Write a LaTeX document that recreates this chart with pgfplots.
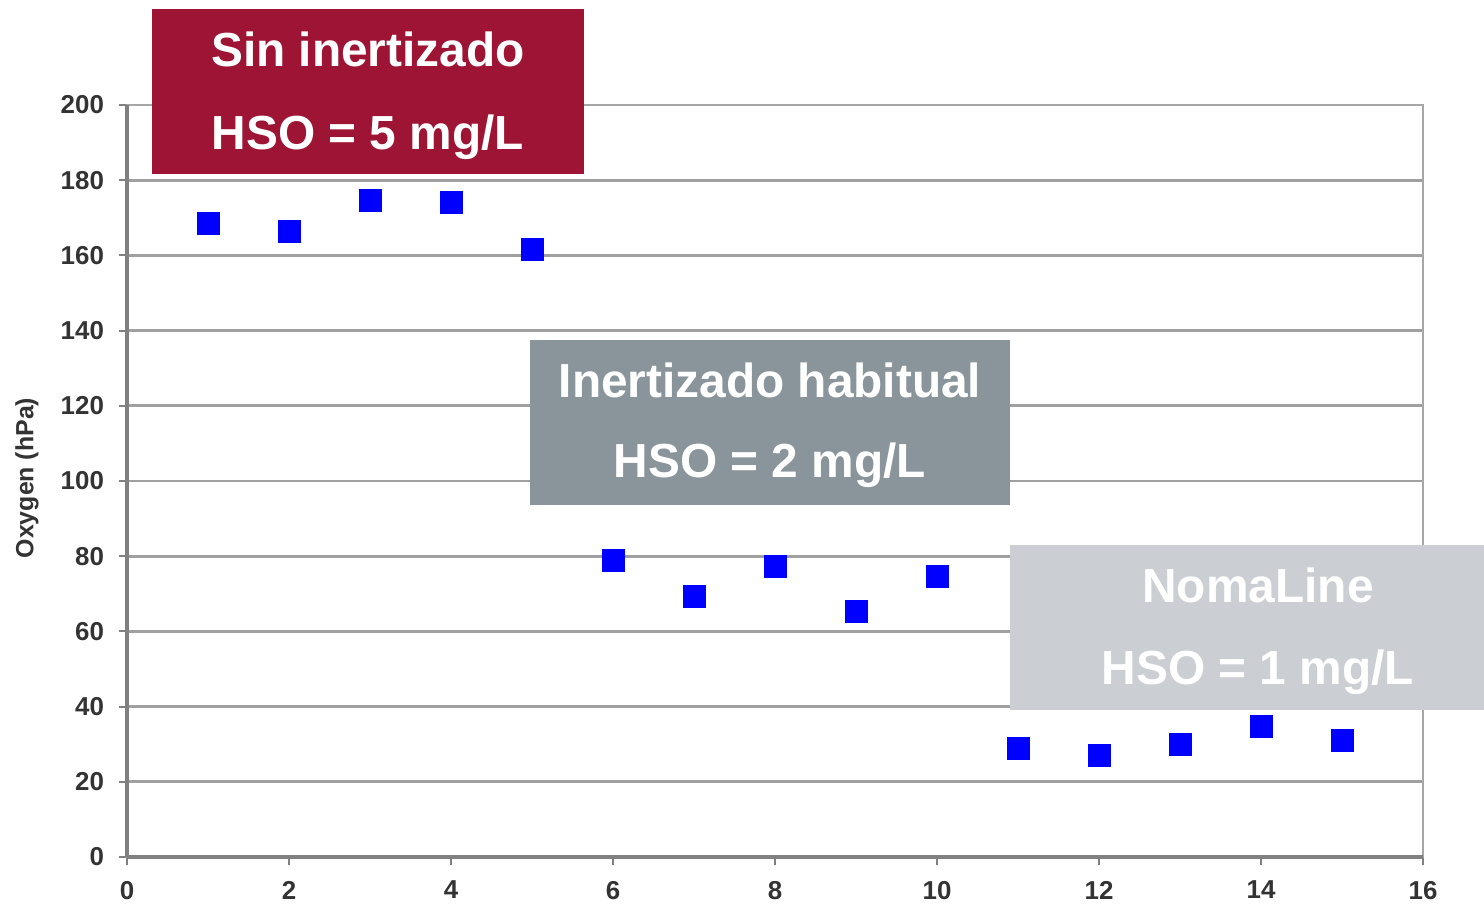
\documentclass[border=0pt]{standalone}
\usepackage{pgfplots}
\pgfplotsset{compat=1.18}
\usepackage{fontspec}
\setmainfont{Liberation Sans}
\definecolor{boxred}{RGB}{158,20,52}
\definecolor{boxgray}{RGB}{138,148,155}
\definecolor{boxlight}{RGB}{203,207,211}
\definecolor{gridc}{RGB}{160,160,160}
\definecolor{framec}{RGB}{128,128,128}
\begin{document}
\begin{tikzpicture}[x=1bp,y=1bp]
\path (-63.5,-22.5) rectangle (678.5,428.5);
\begin{axis}[
  at={(0,0)}, anchor=south west,
  scale only axis, width=648bp, height=376bp,
  xmin=0, xmax=16, ymin=0, ymax=200,
  xtick={0,2,...,16}, ytick={0,20,...,200},
  ymajorgrids, grid style={gridc, line width=1.4bp},
  axis line style={framec!70, line width=1.2bp},
  tick style={framec, line width=1bp},
  tick align=outside, major tick length=4bp,
  xtick pos=bottom, ytick pos=left,
  /pgf/number format/assume math mode=true,
  ticklabel style={font=\fontsize{13}{15}\selectfont\bfseries, text=black!80},
  xticklabel style={yshift=-4.5bp},
  yticklabel style={xshift=-4bp},
  clip=false,
]
\addplot[only marks, mark=square*, mark size=5.5bp, mark options={fill=blue, draw=blue}]
coordinates {
(1,168.6) (2,166.5) (3,174.5) (4,174.2) (5,161.7)
(6,79) (7,69.4) (8,77.4) (9,65.4) (10,74.5)
(11,29) (12,27.1) (13,30) (14,34.8) (15,31.1)
};
\draw[framec, line width=1.6bp] (rel axis cs:0,0) -- (rel axis cs:0,1);
\draw[framec, line width=1.6bp] (rel axis cs:0,0) -- (rel axis cs:1,0);
\end{axis}
\node[rotate=90, text=black!80, font=\fontsize{12.5}{15}\selectfont\bfseries] at (-50,189.5) {Oxygen (hPa)};
\fill[boxred] (12.5,341.5) rectangle (228.5,424);
\node[text=white, font=\fontsize{24}{28}\selectfont\bfseries] at (120.5,404) {Sin inertizado};
\node[text=white, font=\fontsize{24}{28}\selectfont\bfseries] at (120.5,360) {HSO = 5 mg/L};
\fill[boxgray] (201.5,176) rectangle (441.5,258.5);
\node[text=white, font=\fontsize{24}{28}\selectfont\bfseries] at (321.5,238.5) {Inertizado habitual};
\node[text=white, font=\fontsize{24}{28}\selectfont\bfseries] at (321.5,196) {HSO = 2 mg/L};
\fill[boxlight] (441.5,73.5) rectangle (678.5,156);
\node[text=white, font=\fontsize{24}{28}\selectfont\bfseries] at (565.5,136) {NomaLine};
\node[text=white, font=\fontsize{24}{28}\selectfont\bfseries] at (565.5,92.5) {HSO = 1 mg/L};
\end{tikzpicture}
\end{document}
